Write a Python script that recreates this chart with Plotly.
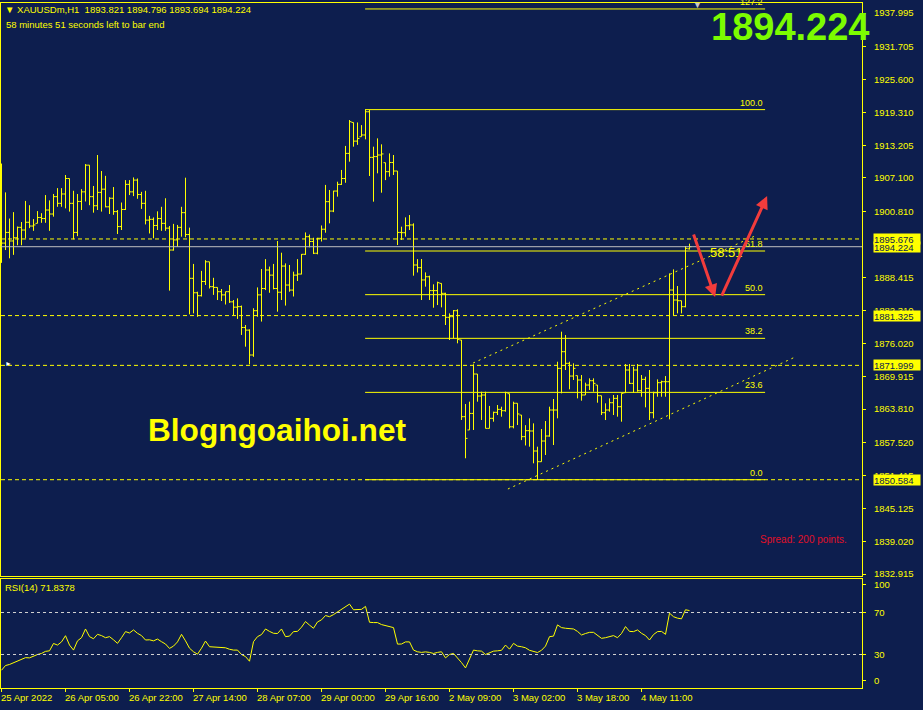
import plotly.graph_objects as go

# ---------------- data ----------------
bar_open = [1897.0, 1894.9, 1896.9, 1895.3, 1895.9, 1897.85, 1897.35, 1898.8, 1898.1, 1898.6,
            1899.7, 1899.5, 1901.1, 1900.35, 1903.6, 1902.35, 1904.1, 1907.0, 1902.35, 1896.9,
            1902.7, 1904.5, 1909.5, 1903.6, 1901.9, 1904.4, 1905.0, 1901.7, 1903.3, 1900.8,
            1898.0, 1901.2, 1905.9, 1904.5, 1906.7, 1904.0, 1902.35, 1899.2, 1899.35, 1898.2,
            1899.5, 1898.6, 1897.7, 1893.6, 1895.5, 1897.85, 1900.6, 1896.5, 1888.3, 1885.6,
            1885.05, 1887.7, 1891.4, 1886.74, 1886.6, 1885.8, 1885.2, 1885.8, 1883.9, 1882.9,
            1883.0, 1879.1, 1878.6, 1873.94, 1882.24, 1885.2, 1886.4, 1889.86, 1888.9, 1886.4,
            1885.7, 1890.6, 1887.05, 1886.1, 1888.9, 1889.1, 1892.8, 1896.1, 1895.2, 1893.0,
            1895.8, 1897.5, 1902.66, 1900.9, 1904.65, 1905.9, 1907.0, 1911.7, 1917.5, 1914.0,
            1914.83, 1915.15, 1919.5, 1910.96, 1911.1, 1911.4, 1909.96, 1908.28, 1910.0, 1908.4,
            1896.9, 1896.85, 1898.16, 1898.3, 1890.8, 1890.3, 1888.0, 1888.6, 1886.0, 1886.0,
            1887.36, 1885.49, 1881.0, 1881.12, 1882.24, 1876.75, 1862.39, 1859.9, 1863.0, 1870.38,
            1866.26, 1866.45, 1860.2, 1862.08, 1863.2, 1863.76, 1863.51, 1866.7, 1860.5, 1864.9,
            1862.7, 1858.65, 1859.77, 1859.71, 1855.96, 1853.96, 1857.83, 1858.77, 1863.64, 1863.64,
            1871.44, 1874.56, 1872.38, 1870.0, 1870.07, 1869.26, 1866.45, 1868.32, 1869.13, 1868.32,
            1866.32, 1863.14, 1863.64, 1865.01, 1865.82, 1864.26, 1866.88, 1871.13, 1868.63, 1871.13,
            1867.26, 1869.38, 1867.7, 1863.14, 1866.88, 1868.76, 1868.94, 1868.94, 1886.11, 1884.24,
            1884.11, 1882.99, 1893.821]
bar_high = [1909.8, 1904.4, 1899.5, 1900.7, 1898.0, 1898.85, 1902.8, 1902.0, 1899.4, 1900.9,
            1900.5, 1903.9, 1902.9, 1904.1, 1905.2, 1905.2, 1907.65, 1907.0, 1904.7, 1904.1,
            1905.0, 1909.7, 1909.5, 1905.6, 1911.4, 1908.4, 1907.5, 1903.5, 1905.4, 1901.1,
            1902.5, 1906.7, 1906.7, 1907.2, 1907.0, 1904.5, 1904.7, 1900.0, 1899.7, 1900.85,
            1901.7, 1903.3, 1898.1, 1898.5, 1898.3, 1901.7, 1907.15, 1897.8, 1891.0, 1885.8,
            1889.7, 1891.7, 1891.4, 1888.4, 1886.6, 1886.3, 1885.8, 1887.05, 1884.24, 1884.55,
            1883.2, 1879.56, 1878.75, 1882.7, 1886.6, 1890.05, 1891.9, 1890.5, 1891.0, 1895.3,
            1893.1, 1891.1, 1890.8, 1889.55, 1891.9, 1892.85, 1896.9, 1896.5, 1895.9, 1895.9,
            1898.2, 1905.8, 1904.85, 1904.7, 1906.4, 1908.6, 1913.1, 1917.95, 1917.5, 1917.5,
            1917.0, 1919.95, 1919.83, 1912.96, 1914.52, 1913.4, 1909.96, 1911.7, 1911.4, 1908.4,
            1897.98, 1899.72, 1900.16, 1898.6, 1891.9, 1891.92, 1889.42, 1888.8, 1887.18, 1887.68,
            1887.36, 1885.6, 1881.74, 1882.37, 1882.5, 1876.75, 1864.76, 1865.2, 1872.2, 1870.38,
            1867.07, 1867.07, 1864.4, 1863.33, 1864.58, 1864.26, 1867.07, 1866.7, 1865.2, 1864.9,
            1862.7, 1860.8, 1862.08, 1861.14, 1856.77, 1860.08, 1861.58, 1864.26, 1865.7, 1872.69,
            1878.31, 1877.68, 1872.69, 1872.38, 1870.07, 1870.19, 1868.76, 1869.57, 1869.57, 1868.32,
            1866.32, 1864.89, 1865.82, 1866.45, 1866.45, 1866.76, 1872.25, 1872.25, 1871.75, 1872.25,
            1870.19, 1869.88, 1871.13, 1867.07, 1869.38, 1869.13, 1870.0, 1889.23, 1889.98, 1886.86,
            1884.11, 1894.35, 1894.796]
bar_low = [1891.2, 1893.6, 1892.05, 1892.7, 1894.5, 1894.5, 1895.8, 1897.7, 1897.2, 1898.6,
           1898.7, 1898.7, 1897.2, 1899.85, 1901.7, 1901.7, 1901.4, 1900.8, 1895.6, 1896.2,
           1901.1, 1902.7, 1902.0, 1900.6, 1901.1, 1900.8, 1901.6, 1900.35, 1900.2, 1896.6,
           1897.35, 1901.1, 1903.9, 1903.7, 1903.2, 1901.3, 1898.4, 1896.7, 1895.8, 1897.35,
           1897.2, 1897.2, 1886.0, 1893.5, 1894.2, 1896.1, 1896.0, 1881.56, 1881.74, 1881.1,
           1884.9, 1887.05, 1886.4, 1885.2, 1884.24, 1884.05, 1883.4, 1883.7, 1881.43, 1880.7,
           1877.7, 1875.5, 1872.2, 1873.6, 1881.1, 1880.2, 1886.1, 1885.6, 1886.24, 1882.06,
           1884.24, 1883.2, 1885.8, 1884.9, 1887.8, 1889.05, 1892.7, 1894.1, 1892.85, 1892.8,
           1895.2, 1896.85, 1898.6, 1900.7, 1903.6, 1905.8, 1906.2, 1910.15, 1912.96, 1913.3,
           1914.83, 1914.33, 1907.47, 1902.66, 1907.97, 1904.34, 1906.7, 1907.34, 1907.65, 1894.54,
           1895.48, 1896.1, 1897.35, 1888.8, 1889.4, 1884.24, 1886.74, 1884.24, 1882.8, 1883.3,
           1882.87, 1879.56, 1876.75, 1877.06, 1876.13, 1861.77, 1854.6, 1859.9, 1859.9, 1865.2,
           1861.77, 1860.2, 1860.2, 1861.45, 1862.7, 1862.39, 1863.33, 1860.2, 1860.2, 1860.83,
           1858.0, 1857.0, 1856.77, 1853.65, 1850.53, 1853.96, 1855.21, 1858.64, 1857.08, 1862.08,
           1866.76, 1871.13, 1867.51, 1869.26, 1865.82, 1865.39, 1866.45, 1867.38, 1867.07, 1865.01,
           1862.7, 1861.76, 1863.33, 1862.7, 1862.39, 1861.45, 1866.88, 1868.51, 1866.88, 1867.07,
           1866.13, 1864.14, 1861.76, 1862.08, 1866.13, 1866.13, 1866.13, 1861.89, 1881.43, 1881.74,
           1881.74, 1882.87, 1893.694]
bar_close = [1894.9, 1896.9, 1895.3, 1895.9, 1897.85, 1897.35, 1898.8, 1898.1, 1898.3, 1899.7,
             1899.5, 1901.1, 1900.35, 1903.6, 1902.35, 1904.1, 1907.0, 1902.35, 1896.9, 1902.7,
             1904.5, 1909.5, 1903.6, 1901.9, 1904.4, 1905.0, 1901.7, 1903.3, 1900.8, 1898.0,
             1901.2, 1905.9, 1904.5, 1906.7, 1904.0, 1902.35, 1899.2, 1899.35, 1898.2, 1899.5,
             1898.6, 1897.7, 1893.6, 1895.5, 1897.85, 1900.6, 1896.5, 1888.3, 1885.6, 1885.05,
             1887.7, 1891.4, 1886.74, 1886.6, 1885.8, 1885.2, 1885.8, 1883.9, 1882.9, 1883.0,
             1879.1, 1878.6, 1873.94, 1882.24, 1885.2, 1886.4, 1889.86, 1888.9, 1886.4, 1885.7,
             1890.6, 1887.05, 1886.1, 1888.9, 1889.1, 1892.8, 1896.1, 1895.2, 1893.0, 1895.8,
             1897.5, 1902.66, 1900.9, 1904.65, 1905.9, 1907.0, 1911.7, 1917.64, 1914.0, 1914.5,
             1915.15, 1919.5, 1910.96, 1911.1, 1911.4, 1911.6, 1908.28, 1910.0, 1908.4, 1896.9,
             1896.85, 1898.16, 1898.3, 1890.8, 1890.3, 1888.0, 1888.6, 1886.0, 1886.0, 1887.49,
             1885.49, 1881.0, 1881.12, 1882.24, 1876.87, 1862.39, 1858.33, 1863.0, 1870.38, 1866.26,
             1866.45, 1860.2, 1862.08, 1863.2, 1863.76, 1863.51, 1866.9, 1860.5, 1864.9, 1862.9,
             1858.65, 1859.77, 1859.71, 1855.96, 1853.96, 1857.83, 1858.77, 1863.64, 1863.64, 1871.44,
             1874.56, 1872.38, 1870.0, 1871.44, 1869.26, 1866.45, 1868.32, 1869.13, 1868.63, 1866.32,
             1863.14, 1863.64, 1865.01, 1865.82, 1864.26, 1866.76, 1871.13, 1868.63, 1871.13, 1867.26,
             1869.38, 1867.7, 1863.14, 1866.88, 1868.76, 1868.94, 1868.94, 1886.11, 1884.24, 1884.11,
             1882.99, 1893.92, 1894.224]
rsi_values = [15.0, 19.5, 20.5, 22.0, 23.5, 25.5, 27.0, 26.8, 28.5, 30.0,
              31.0, 33.0, 33.5, 40.5, 39.0, 42.0, 47.9, 39.0, 34.2, 43.0,
              46.0, 54.3, 47.0, 45.0, 49.2, 48.0, 46.0, 47.0, 44.0, 40.6,
              46.0, 51.8, 50.5, 53.4, 50.2, 48.0, 43.8, 44.0, 43.0, 44.7,
              42.2, 40.0, 35.8, 38.0, 42.0, 49.2, 43.0, 36.0, 32.6, 30.3,
              36.0, 42.8, 37.4, 37.0, 36.5, 36.4, 36.4, 35.0, 34.2, 34.2,
              30.0, 28.0, 23.6, 42.2, 47.0, 49.0, 54.3, 52.0, 50.2, 50.0,
              54.3, 47.0, 47.5, 51.8, 52.0, 56.0, 61.4, 58.0, 55.0, 61.0,
              63.0, 67.1, 66.0, 68.0, 70.3, 72.6, 75.0, 78.0, 72.6, 72.6,
              73.0, 75.8, 60.7, 60.4, 60.4, 58.5, 57.5, 57.0, 55.6, 39.9,
              40.0, 42.0, 42.0, 34.2, 32.6, 32.0, 32.5, 32.0, 31.0, 32.0,
              32.6, 26.8, 30.0, 31.0, 27.0, 22.3, 17.2, 26.0, 34.2, 33.5,
              33.2, 30.0, 31.5, 33.2, 33.5, 34.0, 39.0, 35.1, 40.6, 38.0,
              37.4, 36.4, 34.0, 33.2, 31.9, 34.0, 38.0, 47.0, 47.5, 58.2,
              55.6, 55.0, 54.5, 54.3, 52.0, 48.6, 50.0, 51.1, 51.1, 48.0,
              45.4, 46.0, 47.0, 48.0, 46.0, 50.0, 56.6, 52.0, 51.8, 53.4,
              50.2, 48.0, 43.8, 49.0, 51.8, 52.0, 49.2, 69.4, 66.0, 64.6,
              64.0, 72.6, 71.84]

time_labels = ["25 Apr 2022", "26 Apr 05:00", "26 Apr 22:00", "27 Apr 14:00", "28 Apr 07:00",
               "29 Apr 00:00", "29 Apr 16:00", "2 May 09:00", "3 May 02:00", "3 May 18:00",
               "4 May 11:00"]
time_label_bars = [0, 16, 32, 48, 64, 80, 96, 112, 128, 144, 160]

price_ticks = [1937.995, 1931.705, 1925.600, 1919.310, 1913.205, 1907.100, 1900.810,
               1888.415, 1882.310, 1876.020, 1869.915, 1863.810, 1857.520, 1851.415, 1845.125,
               1839.020, 1832.915]
rsi_tick_vals = [96.2, 70, 30, 4.8]
rsi_tick_text = ["100", "70", "30", "0"]
rsi_levels = [70, 30]

dashed_levels = [1895.676, 1881.325, 1871.999, 1850.584]
bid_price = 1894.224
fib_low = 1850.584
fib_high = 1919.90
fib_levels = [0.0, 23.6, 38.2, 50.0, 61.8, 100.0, 127.2]

# ---------------- layout geometry ----------------
W, H = 923, 710
ML, MR, MT, MB = 1, 61, 3, 22
PW, PH = W - ML - MR, H - MT - MB
X0, X1 = -0.125, 215.125
def fx(px):
    return (px - ML) / PW
def fy(py):
    return 1 - (py - MT) / PH
def bar_px(i):
    return ML + (i - X0) / (X1 - X0) * PW

YEL = "#FFFF00"
BG = "#0D1E4E"
FONT = "Liberation Sans, Arial, sans-serif"
idx = list(range(len(bar_close)))

fig = go.Figure()
fig.add_trace(go.Ohlc(
    x=idx, open=bar_open, high=bar_high, low=bar_low, close=bar_close,
    increasing=dict(line=dict(color=YEL, width=1)),
    decreasing=dict(line=dict(color=YEL, width=1)),
    tickwidth=0.5, hoverinfo="skip", xaxis="x", yaxis="y"))
fig.add_trace(go.Scatter(
    x=idx, y=rsi_values, mode="lines", line=dict(color=YEL, width=1),
    hoverinfo="skip", xaxis="x2", yaxis="y2"))

shapes = []
for lv in dashed_levels:
    shapes.append(dict(type="line", xref="paper", yref="y", x0=0, x1=1, y0=lv, y1=lv,
                       line=dict(color=YEL, width=1, dash="4px,3px")))
shapes.append(dict(type="line", xref="paper", yref="y", x0=0, x1=1, y0=bid_price, y1=bid_price,
                   line=dict(color="#C0C0C0", width=1)))
for lv in rsi_levels:
    shapes.append(dict(type="line", xref="paper", yref="y2", x0=0, x1=1, y0=lv, y1=lv,
                       line=dict(color="#D0D0D0", width=1, dash="3px,3px")))
fib_x0, fib_x1 = 90.9, 190.9
for lv in fib_levels:
    p = fib_low + (fib_high - fib_low) * lv / 100.0
    shapes.append(dict(type="line", xref="x", yref="y", x0=fib_x0, x1=fib_x1, y0=p, y1=p,
                       line=dict(color=YEL, width=1)))
# channel trend lines
shapes.append(dict(type="line", xref="x", yref="y", x0=117.9, y0=1872.44, x1=188.9, y1=1896.41,
                   line=dict(color=YEL, width=1, dash="2px,4px")))
shapes.append(dict(type="line", xref="x", yref="y", x0=126.6, y0=1848.84, x1=198.4, y1=1873.56,
                   line=dict(color=YEL, width=1, dash="2px,4px")))

ann = []
def txt(text, px, py, size=9.5, color=YEL, xa="left", ya="middle", **kw):
    ann.append(dict(text=text, xref="paper", yref="paper", x=fx(px), y=fy(py),
                    xanchor=xa, yanchor=ya, showarrow=False,
                    font=dict(family=FONT, size=size, color=color), **kw))

nb = "\u00a0"
txt("\u25BC" + nb + "XAUUSDm,H1" + nb * 2 + "1893.821" + nb + "1894.796" + nb + "1893.694" + nb + "1894.224",
    3, 10)
txt("58 minutes 51 seconds left to bar end", 4, 24)
txt("<b>1894.224</b>", 872, 27, size=38, color="#7CFC00", xa="right")
txt("<b>Blogngoaihoi.net</b>", 146, 430, size=31.6, color=YEL)
txt("Spread: 200 points.", 758, 539, size=10, color="#E01028")
txt("58:51", 726, 252, size=13, xa="center")
txt("RSI(14) 71.8378", 3, 587)
txt("\u25BC", 697, 5, size=9, color="#C8C8C8", xa="center")
txt("\u25BA", 3, 364, size=7, color="#FFFFFF")

for lv in fib_levels:
    p = fib_low + (fib_high - fib_low) * lv / 100.0
    ann.append(dict(text=f"{lv:.1f}", xref="x", yref="y", x=fib_x1, y=p, xanchor="right",
                    yanchor="bottom", showarrow=False, font=dict(family=FONT, size=9, color=YEL)))

for lab, b in zip(time_labels, time_label_bars):
    txt(lab, bar_px(b) - 3, 697)

# highlighted price boxes on the right scale
for lv in [bid_price, 1895.676, 1881.325, 1871.999, 1850.584]:
    ann.append(dict(text=f"{lv:.3f}", xref="paper", yref="y", x=fx(873), y=lv, xanchor="left",
                    yanchor="middle", showarrow=False, bgcolor=YEL, borderpad=0, width=46, height=10,
                    align="left", font=dict(family=FONT, size=9.5, color=BG)))

# red arrows
for (x0, y0, x1, y1) in [(172.9, 1896.79, 178.4, 1884.8), (179.9, 1884.8, 191.4, 1903.7)]:
    ann.append(dict(text="", xref="x", yref="y", x=x1, y=y1, axref="x", ayref="y", ax=x0, ay=y0,
                    showarrow=True, arrowhead=2, arrowsize=0.85, arrowwidth=3, arrowcolor="#F23C3C"))

ax_common = dict(showgrid=False, zeroline=False, showline=True, mirror=True, linecolor=YEL,
                 linewidth=1, range=[X0, X1], fixedrange=True)
fig.update_layout(
    width=W, height=H, autosize=False,
    margin=dict(l=ML, r=MR, t=MT, b=MB, pad=0),
    paper_bgcolor=BG, plot_bgcolor=BG, showlegend=False, hovermode=False,
    font=dict(family=FONT, color=YEL, size=9.5),
    xaxis=dict(ax_common, domain=[0, 1], anchor="y", showticklabels=False, ticks="",
               rangeslider=dict(visible=False)),
    yaxis=dict(domain=[fy(576), 1], range=[1832.55, 1939.87], side="right", anchor="x",
               showgrid=False, zeroline=False, showline=True, mirror=True, linecolor=YEL,
               tickmode="array", tickvals=price_ticks, ticktext=[f"{v:.3f}" for v in price_ticks],
               ticks="outside", ticklen=3, tickcolor=YEL, ticklabelstandoff=6,
               tickfont=dict(family=FONT, size=9.5, color=YEL), fixedrange=True),
    xaxis2=dict(ax_common, domain=[0, 1], anchor="y2", tickmode="array", tickvals=time_label_bars,
                ticks="outside", ticklen=3, tickcolor=YEL, showticklabels=False),
    yaxis2=dict(domain=[0, fy(579)], range=[-1.9, 101.9], side="right", anchor="x2",
                showgrid=False, zeroline=False, showline=True, mirror=True, linecolor=YEL,
                tickmode="array", tickvals=rsi_tick_vals, ticktext=rsi_tick_text,
                ticks="outside", ticklen=3, tickcolor=YEL, ticklabelstandoff=6,
                tickfont=dict(family=FONT, size=9.5, color=YEL), fixedrange=True),
    shapes=shapes, annotations=ann,
)

fig.write_html("out.html", config={"displayModeBar": False, "staticPlot": True},
               post_script="document.body.style.margin='0px';")
